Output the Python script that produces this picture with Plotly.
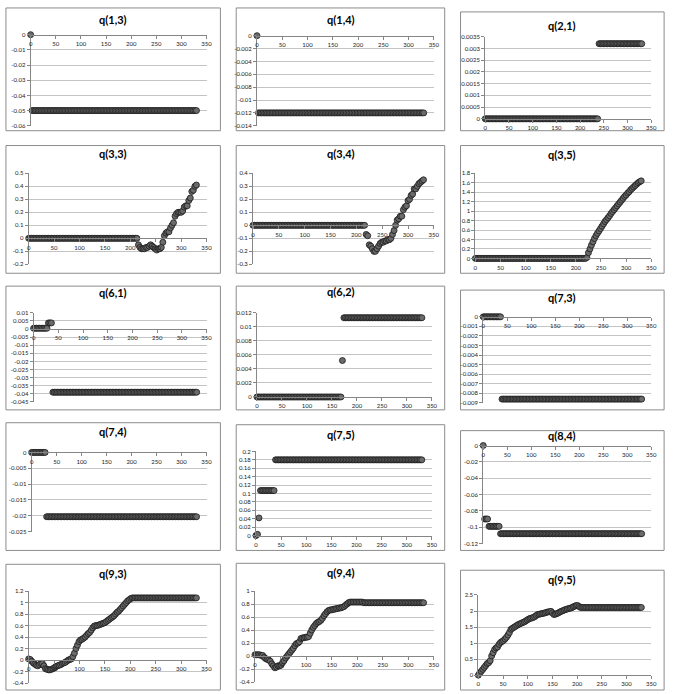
import plotly.graph_objects as go

# ---------------- data ----------------
X = list(range(0, 331, 3))  # iteration index (sampled)
X_TICKS = [0, 50, 100, 150, 200, 250, 300, 350]

TITLES = ["q(1,3)", "q(1,4)", "q(2,1)",
          "q(3,3)", "q(3,4)", "q(3,5)",
          "q(6,1)", "q(6,2)", "q(7,3)",
          "q(7,4)", "q(7,5)", "q(8,4)",
          "q(9,3)", "q(9,4)", "q(9,5)"]

q13 = [0] + [-0.05] * 110
q14 = [0] + [-0.012] * 110
q21 = [0] * 80 + [0.0032] * 31

q33 = [0] * 72 + [-0.05, -0.07, -0.08, -0.08, -0.08, -0.07, -0.07, -0.06, -0.05, -0.06,
                  -0.07, -0.08, -0.09, -0.08, -0.08, -0.07, -0.03, 0.02, 0.04, 0.05,
                  0.05, 0.08, 0.10, 0.12, 0.17, 0.19, 0.20, 0.20, 0.20, 0.21,
                  0.24, 0.25, 0.25, 0.29, 0.31, 0.36, 0.37, 0.40, 0.41]
q34 = [0] * 73 + [-0.07, -0.08, -0.15, -0.16, -0.18, -0.20, -0.20, -0.18, -0.16, -0.14,
                  -0.13, -0.13, -0.12, -0.12, -0.11, -0.11, -0.10, -0.07, -0.04, 0.00,
                  0.04, 0.05, 0.07, 0.07, 0.12, 0.14, 0.15, 0.19, 0.20, 0.23,
                  0.24, 0.28, 0.28, 0.30, 0.32, 0.33, 0.34, 0.35]
q35 = [0] * 74 + [0.02, 0.12, 0.20, 0.28, 0.35, 0.42, 0.48, 0.53, 0.58, 0.63,
                  0.68, 0.73, 0.78, 0.82, 0.86, 0.90, 0.95, 0.99, 1.03, 1.07,
                  1.11, 1.15, 1.19, 1.23, 1.27, 1.31, 1.34, 1.38, 1.41, 1.45,
                  1.48, 1.51, 1.54, 1.57, 1.60, 1.62, 1.64]

q61 = [0.0005] * 10 + [0.0038] * 3 + [-0.039] * 98
q62 = [0] * 57 + [0.0052] + [0.0113] * 53
q73 = [0] * 13 + [-0.0086] * 98

q74 = [0] * 10 + [-0.0203] * 101
q75 = [0, 0.003, 0.042] + [0.107] * 10 + [0.18] * 98
q84 = [0] + [-0.09] * 3 + [-0.099] * 8 + [-0.108] * 99

q93 = [0.02, 0.01, -0.02, -0.05, -0.07, -0.09, -0.10, -0.08, -0.06, -0.06,
       -0.10, -0.15, -0.16, -0.17, -0.17, -0.16, -0.15, -0.13, -0.11, -0.10,
       -0.09, -0.08, -0.06, -0.05, -0.04, -0.02, 0.00, 0.01, 0.02, 0.06,
       0.12, 0.20, 0.26, 0.32, 0.35, 0.36, 0.38, 0.40, 0.43, 0.46,
       0.48, 0.52, 0.56, 0.59, 0.60, 0.60, 0.61, 0.62, 0.63, 0.64,
       0.65, 0.67, 0.69, 0.71, 0.73, 0.75, 0.77, 0.80, 0.83, 0.85,
       0.88, 0.91, 0.94, 0.97, 1.00, 1.03, 1.05, 1.07, 1.08, 1.08] + [1.08] * 41
q94 = [0.02, 0.02, 0.02, 0.02, 0.01, 0.01, -0.02, -0.04, -0.05, -0.06,
       -0.08, -0.12, -0.15, -0.18, -0.17, -0.15, -0.15, -0.14, -0.10, -0.07,
       -0.03, 0.00, 0.03, 0.06, 0.09, 0.12, 0.16, 0.19, 0.20, 0.22,
       0.27, 0.28, 0.28, 0.29, 0.29, 0.30, 0.35, 0.40, 0.44, 0.47,
       0.50, 0.52, 0.53, 0.55, 0.58, 0.62, 0.65, 0.68, 0.70, 0.71,
       0.71, 0.72, 0.72, 0.73, 0.73, 0.74, 0.74, 0.75, 0.76, 0.78,
       0.80, 0.82, 0.83, 0.83, 0.83, 0.83, 0.83, 0.83, 0.83, 0.83,
       0.83, 0.82] + [0.82] * 39
q95 = [0.00, 0.07, 0.12, 0.18, 0.24, 0.30, 0.36, 0.39, 0.45, 0.60,
       0.70, 0.80, 0.85, 0.88, 0.96, 1.02, 1.05, 1.08, 1.13, 1.18,
       1.25, 1.33, 1.43, 1.46, 1.49, 1.52, 1.55, 1.58, 1.60, 1.62,
       1.64, 1.66, 1.69, 1.72, 1.75, 1.77, 1.78, 1.80, 1.82, 1.86,
       1.89, 1.90, 1.91, 1.92, 1.93, 1.94, 1.96, 1.97, 1.98, 1.99,
       1.94, 1.89, 1.90, 1.92, 1.94, 1.97, 1.99, 2.01, 2.03, 2.05,
       2.06, 2.08, 2.09, 2.10, 2.13, 2.15, 2.17, 2.17, 2.14] + [2.11] * 42

SERIES = [q13, q14, q21, q33, q34, q35, q61, q62, q73, q74, q75, q84, q93, q94, q95]

Y_MIN = [-0.06, -0.014, 0, -0.2, -0.3, 0, -0.045, 0, -0.009, -0.025, 0, -0.12, -0.4, -0.4, 0]
Y_MAX = [0, 0, 0.0035, 0.5, 0.4, 1.8, 0.01, 0.012, 0, 0, 0.2, 0, 1.2, 1.0, 2.5]
Y_STEP = [0.01, 0.002, 0.0005, 0.1, 0.1, 0.2, 0.005, 0.002, 0.001, 0.005, 0.02, 0.02, 0.2, 0.2, 0.5]

# ---------------- layout geometry (pixels) ----------------
W, H = 678, 694
# plot areas: left, right, top, bottom
PLOT_AREAS = [
    (29, 207, 31, 123), (258, 437, 32, 123), (489, 657, 33, 116),
    (27, 207, 171, 263), (254, 437, 171, 263), (479, 657, 171, 257),
    (32, 207, 312, 402), (258, 435, 312, 397), (487, 657, 316, 403),
    (30, 207, 453, 533), (257, 435, 452, 537), (487, 657, 446, 545),
    (27, 207, 593, 686), (256, 437, 593, 685), (482, 657, 597, 678),
]
BOXES = [
    (4, 221, 4, 128), (237, 448, 4, 128), (464, 670, 8, 128),
    (4, 221, 143, 272), (237, 448, 143, 272), (464, 670, 143, 272),
    (4, 221, 285, 410), (237, 448, 285, 410), (464, 670, 289, 410),
    (4, 221, 423, 552), (237, 448, 425, 552), (464, 670, 431, 552),
    (4, 221, 566, 693), (237, 448, 565, 693), (464, 670, 572, 693),
]
TITLE_POS = [
    (112, 16), (343, 16), (567, 22),
    (112, 151), (343, 151), (567, 152),
    (112, 291), (343, 290), (567, 296),
    (112, 432), (343, 435), (567, 436),
    (112, 575), (343, 574), (567, 581),
]


def fx(p):
    return p / W


def fy(p):
    return 1 - p / H


def fmt(v):
    v = round(v, 6)
    if abs(v) < 1e-12:
        v = 0
    return format(v, "g")


AXIS_COLOR = "#868686"
GRID_COLOR = "#c4c4c4"
TICK_FONT = dict(family="Lato, Liberation Sans, sans-serif", size=6, color="#222222")

fig = go.Figure()
layout = {}
annotations = []
shapes = []

for i in range(15):
    sfx = "" if i == 0 else str(i + 1)
    l, r, t, b = PLOT_AREAS[i]
    ymin, ymax, step = Y_MIN[i], Y_MAX[i], Y_STEP[i]
    xdom = [fx(l), fx(r)]
    ydom = [fy(b), fy(t)]
    zero_pos = ydom[0] + (0 - ymin) / (ymax - ymin) * (ydom[1] - ydom[0])
    nt = int(round((ymax - ymin) / step))
    yvals = [round(ymin + k * step, 6) for k in range(nt + 1)]

    fig.add_trace(go.Scatter(
        x=X, y=SERIES[i], mode="markers",
        xaxis="x" + sfx, yaxis="y" + sfx,
        marker=dict(symbol="circle", size=6, color="#6a6a6a",
                    line=dict(color="#1a1a1a", width=0.8)),
        cliponaxis=False, showlegend=False, hoverinfo="x+y",
    ))

    layout["xaxis" + sfx] = dict(
        domain=xdom, range=[0, 350], anchor="free", position=zero_pos,
        tickmode="array", tickvals=X_TICKS, ticktext=[str(v) for v in X_TICKS],
        showgrid=False, zeroline=False, showline=True, linecolor=AXIS_COLOR,
        linewidth=1, ticks="outside", ticklen=3, tickcolor=AXIS_COLOR,
        tickfont=TICK_FONT, fixedrange=True,
    )
    layout["yaxis" + sfx] = dict(
        domain=ydom, range=[ymin, ymax], anchor="x" + sfx,
        tickmode="array", tickvals=yvals, ticktext=[fmt(v) for v in yvals],
        showgrid=True, gridcolor=GRID_COLOR, gridwidth=1, zeroline=False,
        showline=True, linecolor=AXIS_COLOR, linewidth=1,
        ticks="outside", ticklen=3, tickcolor=AXIS_COLOR,
        tickfont=TICK_FONT, fixedrange=True,
    )

    bl, br, bt, bb = BOXES[i]
    shapes.append(dict(type="rect", xref="paper", yref="paper",
                       x0=fx(bl), x1=fx(br), y0=fy(bb), y1=fy(bt),
                       line=dict(color="#8c8c8c", width=1), layer="below"))
    tx, ty = TITLE_POS[i]
    annotations.append(dict(xref="paper", yref="paper", x=fx(tx), y=fy(ty),
                            text="<b>" + TITLES[i] + "</b>", showarrow=False,
                            xanchor="center", yanchor="middle",
                            font=dict(family="Lato, Liberation Sans, sans-serif",
                                      size=11, color="#000000")))

fig.update_layout(**layout)
fig.update_layout(
    width=W, height=H, margin=dict(l=0, r=0, t=0, b=0),
    paper_bgcolor="white", plot_bgcolor="white",
    shapes=shapes, annotations=annotations, showlegend=False,
)

fig.write_html(
    "out.html",
    config={"displayModeBar": False},
    post_script="document.body.style.margin='0px';document.body.style.overflow='hidden';",
)
